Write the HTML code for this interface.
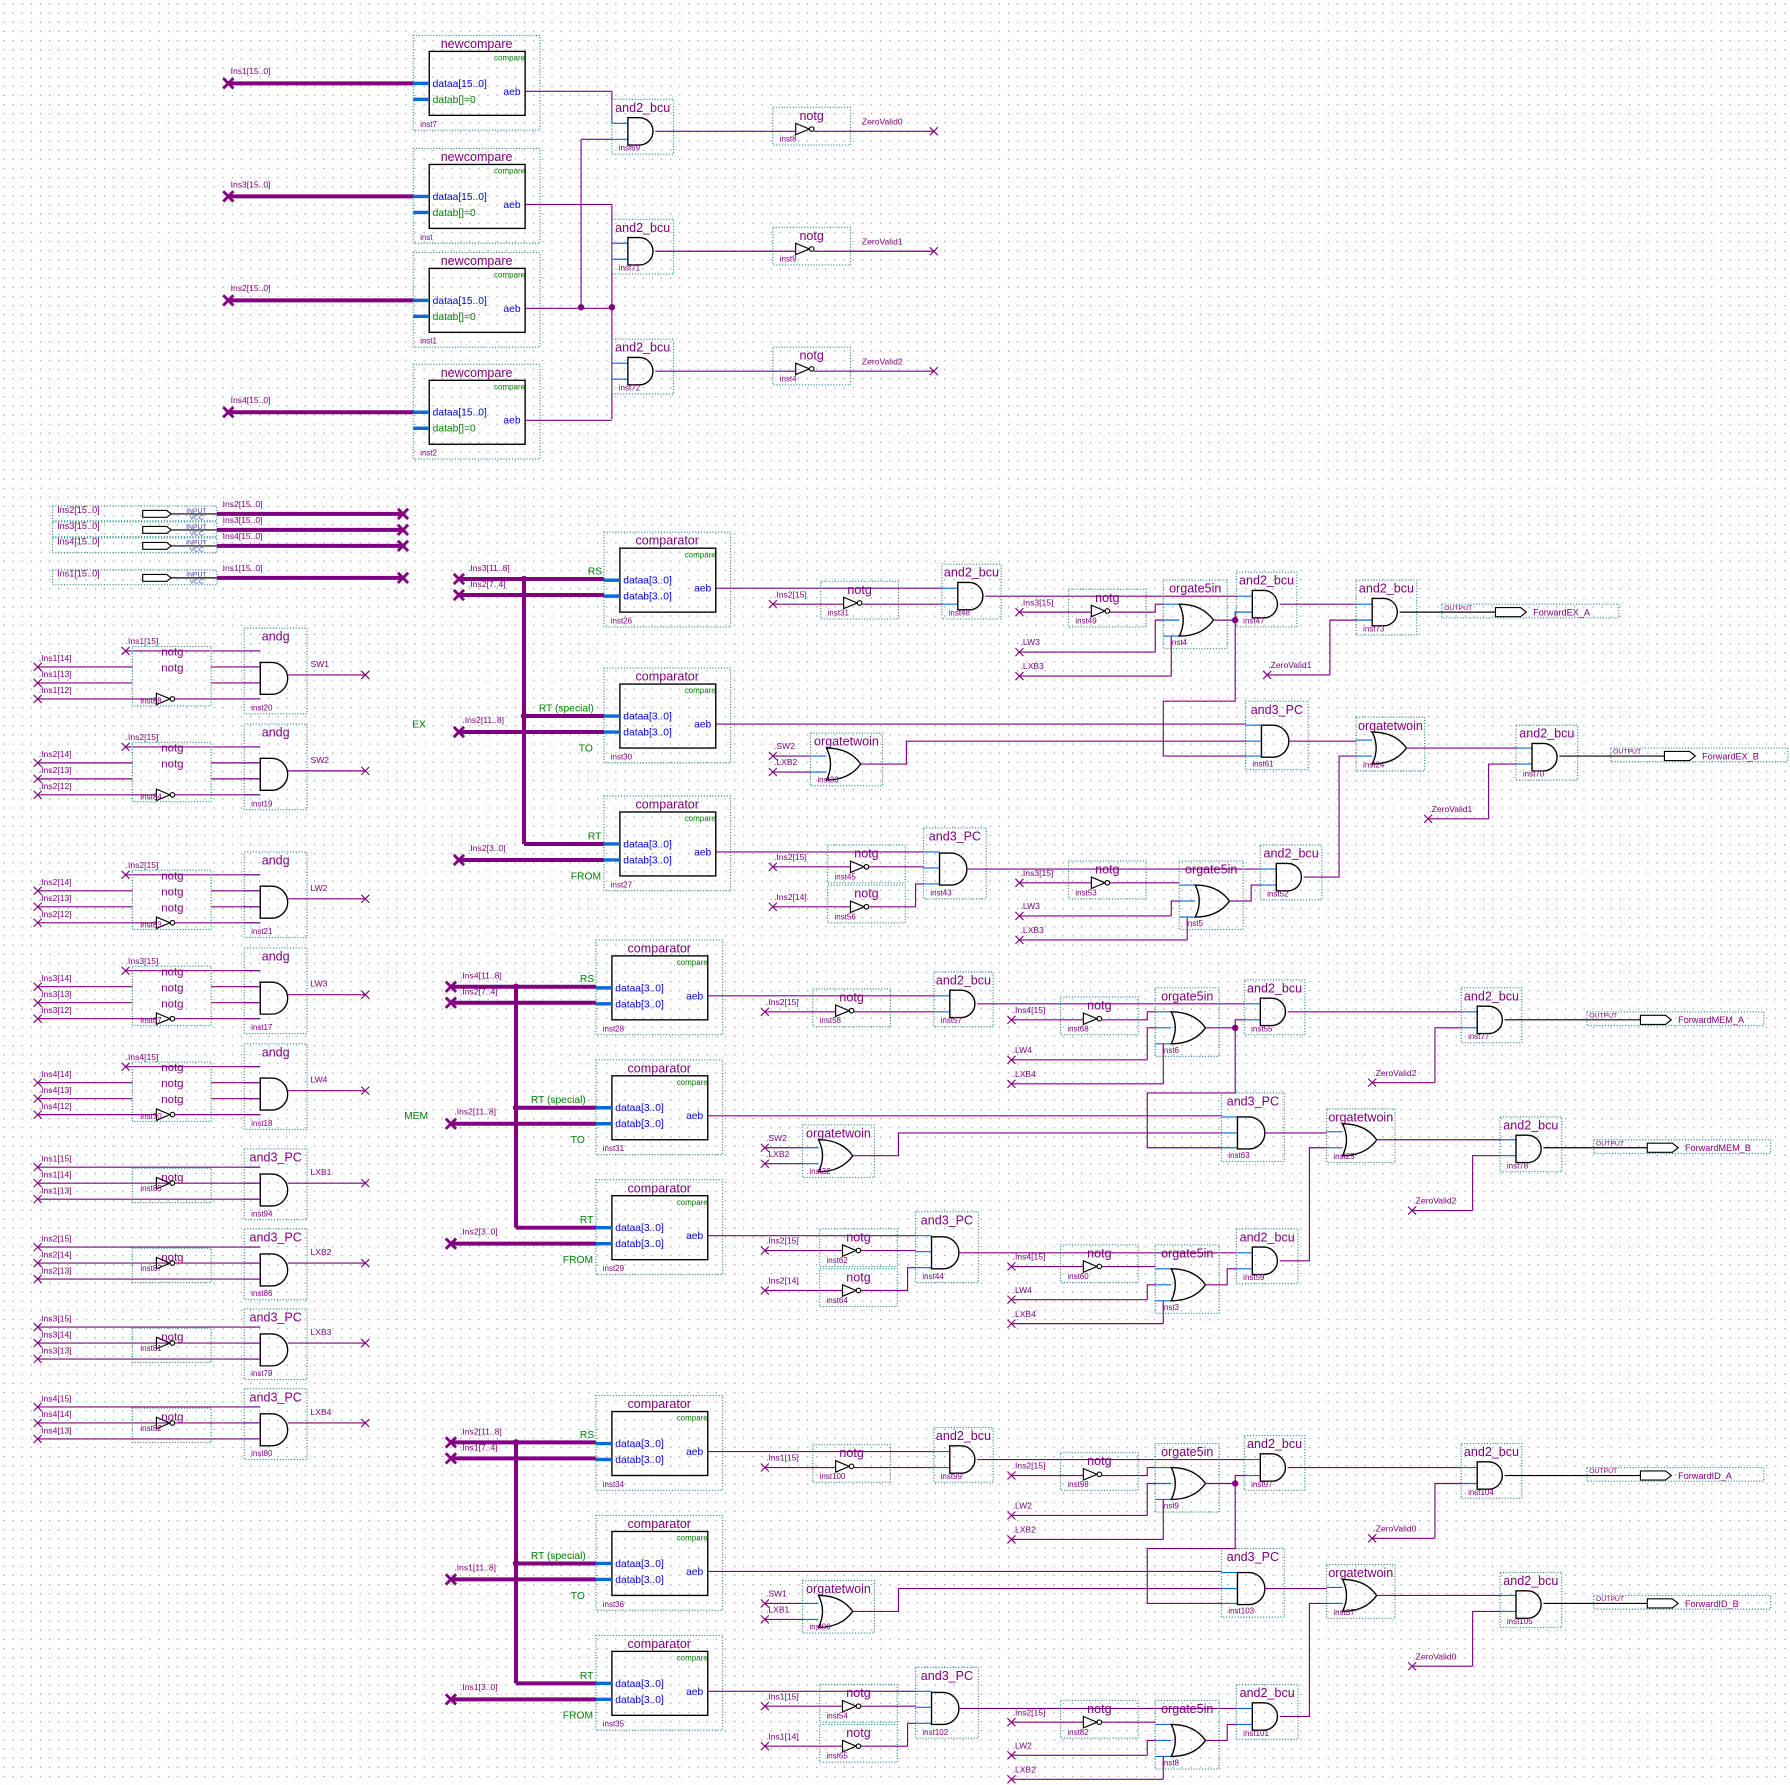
<!DOCTYPE html>
<html><head><meta charset="utf-8">
<style>
html,body{margin:0;padding:0;background:#fff;}
svg{display:block;}
text{font-family:"Liberation Sans",sans-serif;}
</style></head>
<body>
<svg id="s" width="1790" height="1785" viewBox="0 0 1568 1563" preserveAspectRatio="none" xmlns="http://www.w3.org/2000/svg">
<defs><pattern id="g" width="8" height="8" patternUnits="userSpaceOnUse"><rect x="3" y="3" width="1" height="1" fill="#8a8a8a"/></pattern></defs>
<rect width="1568" height="1563" fill="#fff"/>
<rect width="1568" height="1563" fill="url(#g)"/>
<g id="c"></g>
</svg>
<script>
var h='';var P='#800080',BL='#0a6ad8',GR='#008000',BLU='#0000e0';
function L(p,c,w){c=c||P;w=w||1;h+='<polyline points="'+p.map(function(q){return q[0]+','+q[1]}).join(' ')+'" fill="none" stroke="'+c+'" stroke-width="'+w+'"/>';}
function T(x,y,s,sz,col,anc){h+='<text x="'+x+'" y="'+y+'" font-size="'+(sz||8)+'" fill="'+(col||P)+'"'+(anc?' text-anchor="'+anc+'"':'')+'>'+s+'</text>';}
function XM(x,y,b){var d=b?4.5:3.5;var w=b?2.5:1;L([[x-d,y-d],[x+d,y+d]],P,w);L([[x-d,y+d],[x+d,y-d]],P,w);}
function DOT(x,y){h+='<circle cx="'+x+'" cy="'+y+'" r="2.8" fill="'+P+'"/>';}
function BX(x,y,w,hh){h+='<rect x="'+x+'" y="'+y+'" width="'+w+'" height="'+hh+'" fill="none" stroke="#2f8f8f" stroke-width="1" stroke-dasharray="1,1.5"/>';}
function BUS(x1,y,x2){L([[x1,y],[x2,y]],P,3.5);}
function VBUS(x,y1,y2){L([[x,y1],[x,y2]],P,3.5);}
function body(t,x,yc,hh){
 hh=hh||24;var r=hh/2;
 if(t=='and')h+='<path d="M'+x+','+(yc-r)+' h10 a'+r+','+r+' 0 0 1 0,'+hh+' h-10 z" fill="none" stroke="#000" stroke-width="1.2"/>';
 else if(t=='or')h+='<path d="M'+x+','+(yc-r)+' q20,0 30,'+r+' q-10,'+r+' -30,'+r+' q7,-'+r+' 0,-'+hh+' z" fill="none" stroke="#000" stroke-width="1.2"/>';
 else {h+='<path d="M'+x+','+(yc-5)+' L'+(x+12)+','+yc+' L'+x+','+(yc+5)+' z" fill="none" stroke="#000" stroke-width="1"/><circle cx="'+(x+14)+'" cy="'+yc+'" r="2" fill="#fff" stroke="#000"/>';}
}
function G(t,x,y,w,hh,title,inst,ins){
 BX(x,y,w,hh);T(x+w/2,y+11,title,11,P,'middle');
 var yc=Math.round(y+hh*0.58);var bx=x+14;
 if(t=='not'){bx=x+20;}
 if(ins)ins.forEach(function(iy){L([[x,iy],[bx,iy]],BL,1);});
 var bh=(t=='or')?28:(hh>=58?28:24);
 body(t,bx,yc,bh);
 if(inst)T(x+6,y+hh-3,inst,7,P);
 return {bx:bx,yc:yc,ox:bx+(t=='and'?24:(t=='or'?30:16))};
}
function COMP(x,y,title,inst,a,b,bc){
 var w=111,hh=83;BX(x,y,w,hh);T(x+w/2,y+11,title,11,P,'middle');
 h+='<rect x="'+(x+14)+'" y="'+(y+14)+'" width="'+(w-27)+'" height="56" fill="none" stroke="#000" stroke-width="1.2"/>';
 T(x+w-13,y+22,'compare',7,GR,'end');
 L([[x,y+42],[x+14,y+42]],BL,3);L([[x,y+56],[x+14,y+56]],BL,3);
 T(x+17,y+45,a,9,BLU);T(x+17,y+59,b,9,bc||BLU);T(x+w-17,y+52,'aeb',9,BLU,'end');
 T(x+6,y+hh-3,inst,7,P);
}
function inp(x1,y,x2,lab){XM(x1,y);L([[x1,y],[x2,y]]);if(lab)T(x1+1,y-6,lab,7.5,P);}

// ===== Top section =====
var tops=[[31,'Ins1[15..0]','inst7'],[130,'Ins3[15..0]','inst'],[221,'Ins2[15..0]','inst1'],[319,'Ins4[15..0]','inst2']];
tops.forEach(function(t){COMP(362,t[0],'newcompare',t[2],'dataa[15..0]','datab[]=0',GR);
 BUS(200,t[0]+42,362);XM(200,t[0]+42,1);T(202,t[0]+34,t[1],7.5,P);
 L([[460,t[0]+49],[536,t[0]+49]]);});
L([[536,80],[536,108]]);L([[509,122],[509,269]]);L([[536,179],[536,367]]);DOT(509,269);DOT(536,269);
var tg=[[87,'inst69',108,122,'notg','inst8','ZeroValid0',94],[192,'inst71',213,227,'notg','inst9','ZeroValid1',199],[297,'inst72',318,332,'notg','inst4','ZeroValid2',304]];
tg.forEach(function(t,i){var g=G('and',536,t[0],54,48,'and2_bcu',t[1],[t[2],t[3]]);
 if(i==0)L([[509,122],[536,122]]);
 var n=G('not',677,t[7],68,33,'notg',t[5],[]);
 L([[g.ox,g.yc],[n.bx,g.yc]]);L([[n.ox,g.yc],[818,g.yc]]);XM(818,g.yc);T(755,g.yc-6,t[6],7.5,P);});

// ===== Input pins =====
[[450,'Ins2[15..0]'],[464,'Ins3[15..0]'],[478,'Ins4[15..0]'],[506,'Ins1[15..0]']].forEach(function(r){
 var y=r[0];BX(46,y-7,144,13);T(50,y-1,r[1],8,P);
 h+='<path d="M125,'+(y-3)+' h21 l4,3 l-4,3 h-21 z" fill="#fff" stroke="#000"/>';
 L([[150,y],[190,y]],'#000');T(163,y-1,'INPUT',6,'#4040c0');T(166,y+5,'VCC',6,'#4040c0');
 BUS(190,y,355);XM(353,y,1);T(195,y-6,r[1],7.5,P);});

// ===== Left column =====
function ANDG(top,n,lab,inst,ninst,nn){
 var g=G('and',214,top,55,75,'andg',inst,[top+20,top+34,top+48,top+62]);
 var ys=[top+20,top+34,top+48,top+62];
 XM(110,ys[0]);L([[110,ys[0]],[228,ys[0]]]);T(110,ys[0]-6,'.'+n+'[15]',7.5,P);
 for(var i=1;i<4;i++){XM(33,ys[i]);L([[33,ys[i]],[116,ys[i]]]);L([[185,ys[i]],[228,ys[i]]]);T(34,ys[i]-5,'.'+n+'['+(15-i)+']',7.5,P);}
 BX(116,top+16,69,52);
 for(var k=0;k<nn;k++)T(151,top+24+k*14,'notg',10,P,'middle');
 body('not',137,ys[3]);L([[116,ys[3]],[137,ys[3]]]);L([[153,ys[3]],[185,ys[3]]]);T(123,ys[3]+4,ninst,7,P);
 L([[g.ox,top+41],[320,top+41]]);XM(320,top+41);T(272,top+34,lab,7.5,P);
}
ANDG(550,'Ins1','SW1','inst20','inst88',2);
ANDG(634,'Ins2','SW2','inst19','inst84',2);
ANDG(746,'Ins2','LW2','inst21','inst83',3);
ANDG(830,'Ins3','LW3','inst17','inst67',3);
ANDG(914,'Ins4','LW4','inst18','inst70',3);
function AND3L(top,n,lab,inst,ninst){
 var ys=[top+16,top+30,top+44];
 var g=G('and',214,top,55,62,'and3_PC',inst,ys);
 for(var i=0;i<3;i++){XM(33,ys[i]);L([[33,ys[i]],[228,ys[i]]]);T(34,ys[i]-5,'.'+n+'['+(15-i)+']',7.5,P);}
 BX(116,top+17,69,30);T(151,top+28,'notg',10,P,'middle');body('not',137,ys[1]);T(123,ys[1]+7,ninst,7,P);
 L([[g.ox,ys[1]],[320,ys[1]]]);XM(320,ys[1]);T(272,ys[1]-7,lab,7.5,P);
}
AND3L(1006,'Ins1','LXB1','inst94','inst85');
AND3L(1076,'Ins2','LXB2','inst86','inst87');
AND3L(1146,'Ins3','LXB3','inst79','inst81');
AND3L(1216,'Ins4','LXB4','inst80','inst82');

// ===== Forward groups (MEM base coords) =====
function GRP(o){
 var dx=o.dx,dy=o.dy,dm=o.dm||0,dt=o.dt||0;
 function x(v){return v+dx;}function y(v){return v+dy;}function ym(v){return v+dy+dm;}function yt(v){return v+dy+dt;}
 COMP(x(522),y(823),'comparator',o.ci[0],'dataa[3..0]','datab[3..0]');
 COMP(x(522),ym(928),'comparator',o.ci[1],'dataa[3..0]','datab[3..0]');
 COMP(x(522),yt(1033),'comparator',o.ci[2],'dataa[3..0]','datab[3..0]');
 VBUS(x(452),y(864),yt(1075));
 [[y(864),1],[y(878),1],[ym(970),0],[ym(984),1],[yt(1075),0],[yt(1089),1]].forEach(function(b){var x1=b[1]?x(395):x(452);BUS(x1,b[0],x(522));if(b[1])XM(x(395),b[0],1);});
 DOT(x(452),y(864));DOT(x(452),ym(970));
 T(x(403),y(857),o.bl[0],7.5,P);T(x(403),y(871),o.bl[1],7.5,P);T(x(398),ym(976),o.bl[2],7.5,P);T(x(403),yt(1081),o.bl[3],7.5,P);
 if(o.side)T(x(354),ym(980),o.side,9,GR);
 T(x(508),y(860),'RS',9,GR);T(x(465),ym(966),'RT (special)',9,GR);T(x(500),ym(1001),'TO',9,GR);T(x(508),yt(1071),'RT',9,GR);T(x(493),yt(1106),'FROM',9,GR);
 // RS row
 var a1=G('and',x(818),y(851),52,48,'and2_bcu',o.ri[0],[y(872),y(886)]);
 L([[x(620),y(872)],[x(818),y(872)]]);
 var n1=G('not',x(712),y(866),68,33,'notg',o.ri[1],[]);
 inp(x(670),y(886),n1.bx,o.rs[0]);L([[n1.ox,y(886)],[x(818),y(886)]]);
 var sa=o.sa||0;
 var a2=G('and',x(1090)+sa,y(858),53,48,'and2_bcu',o.ri[3],[y(879),y(893)]);
 L([[a1.ox,y(879)],[x(1090)+sa,y(879)]]);
 var n2=G('not',x(929),y(873),68,33,'notg',o.ri[4],[]);
 inp(x(886),y(893),n2.bx,o.rs[1]);
 var og=G('or',x(1012),y(865),56,60,'orgate5in',o.ri[2],[y(886),y(900),y(914)]);
 L([[n2.ox,y(893)],[x(1005),y(893)],[x(1005),y(886)],[x(1012),y(886)]]);
 inp(x(886),y(928),x(1005),o.rs[2]);L([[x(1005),y(928)],[x(1005),y(900)],[x(1012),y(900)]]);
 inp(x(886),y(949),x(1019),o.rs[3]);L([[x(1019),y(949)],[x(1019),y(914)]]);
 var dX=x(1082)+sa/2;
 L([[og.ox,y(900)],[dX,y(900)],[dX,y(893)],[x(1090)+sa,y(893)]]);DOT(dX,y(900));
 var fa=o.fa;
 var fA=G('and',fa,y(865),53,48,'and2_bcu',o.ri[5],[y(886),y(900)]);
 L([[a2.ox,y(886)],[fa,y(886)]]);
 inp(fa-78,y(948),fa-23,o.zv);L([[fa-23,y(948)],[fa-23,y(900)],[fa,y(900)]]);
 L([[fA.ox,y(893)],[o.pa,y(893)]],'#000');
 BX(o.pa-47,y(886),155,12);T(o.pa-45,y(891),'OUTPUT',6,P);
 h+='<path d="M'+o.pa+','+(y(893)-4)+' h22 l5,4 l-5,4 h-22 z" fill="#fff" stroke="#000"/>';T(o.pa+33,y(896),o.oa,8,P);
 // middle
 var s3=o.s3||0,s2=o.s2||0;
 var a3=G('and',x(1070)+s3,ym(957),55,60,'and3_PC',o.mi[0],[ym(978),ym(992),ym(1005)]);
 L([[dX,y(900)],[dX,ym(957)],[x(1005)+s3/2,ym(957)],[x(1005)+s3/2,ym(1005)],[x(1070)+s3,ym(1005)]]);
 L([[x(620),ym(977)],[x(1070)+s3,ym(977)]]);
 var so=G('or',x(703),ym(985),63,46,'orgatetwoin',o.mi[1],[ym(1005),ym(1019)]);
 inp(x(670),ym(1005),x(703),o.ms[0]);inp(x(670),ym(1019),x(703),o.ms[1]);
 L([[so.ox,ym(1012)],[x(787),ym(1012)],[x(787),ym(992)],[x(1070)+s3,ym(992)]]);
 var bo=G('or',x(1162)+s2,ym(971),60,47,'orgatetwoin',o.mi[2],[ym(991),ym(1005)]);
 L([[a3.ox,ym(992)],[x(1162)+s2,ym(992)]]);
 var fb=o.fb;
 var fB=G('and',fb,ym(978),54,48,'and2_bcu',o.mi[3],[ym(998),ym(1012)]);
 L([[bo.ox,ym(998)],[fb,ym(998)]]);
 inp(fb-77,ym(1060),fb-24,o.zv);L([[fb-24,ym(1060)],[fb-24,ym(1012)],[fb,ym(1012)]]);
 L([[fB.ox,ym(1005)],[o.pb,ym(1005)]],'#000');
 BX(o.pb-47,ym(998),155,12);T(o.pb-45,ym(1003),'OUTPUT',6,P);
 h+='<path d="M'+o.pb+','+(ym(1005)-4)+' h22 l5,4 l-5,4 h-22 z" fill="#fff" stroke="#000"/>';T(o.pb+33,ym(1008),o.ob,8,P);
 // RT row
 var a4=G('and',x(802),yt(1061),55,62,'and3_PC',o.ti[0],[yt(1082),yt(1096),yt(1110)]);
 L([[x(620),yt(1082)],[x(802),yt(1082)]]);
 var n3=G('not',x(718),yt(1076),68,33,'notg',o.ti[1],[]);inp(x(670),yt(1095),n3.bx,o.ts[0]);L([[n3.ox,yt(1095)],[x(802),yt(1095)]]);
 var n4=G('not',x(718),yt(1111),68,33,'notg',o.ti[2],[]);inp(x(670),yt(1130),n4.bx,o.ts[1]);L([[n4.ox,yt(1130)],[x(795),yt(1130)],[x(795),yt(1110)],[x(802),yt(1110)]]);
 var sr=o.sr||0;
 var a5=G('and',x(1083)+sr,yt(1076),54,48,'and2_bcu',o.ti[4],[yt(1097),yt(1111)]);
 L([[a4.ox,yt(1097)],[x(1083)+sr,yt(1097)]]);
 var n5=G('not',x(929),yt(1090),68,33,'notg',o.ti[5],[]);inp(x(886),yt(1109),n5.bx,o.ts[2]);
 var o5=G('or',x(1012)+sr,yt(1090),56,60,'orgate5in',o.ti[3],[yt(1111),yt(1125),yt(1139)]);
 L([[n5.ox,yt(1109)],[x(1012)+sr,yt(1109)]]);
 inp(x(886),yt(1138),x(1005)+sr,o.rs[2]);L([[x(1005)+sr,yt(1138)],[x(1005)+sr,yt(1125)],[x(1012)+sr,yt(1125)]]);
 inp(x(886),yt(1159),x(1019)+sr,o.rs[3]);L([[x(1019)+sr,yt(1159)],[x(1019)+sr,yt(1139)]]);
 L([[o5.ox,yt(1125)],[x(1075)+sr,yt(1125)],[x(1075)+sr,yt(1111)],[x(1083)+sr,yt(1111)]]);
 L([[a5.ox,yt(1104)],[x(1147)+s2,yt(1104)],[x(1147)+s2,ym(1005)],[x(1162)+s2,ym(1005)]]);
}
GRP({dx:7,dy:-357,dm:14,dt:21,sa:-14,s3:14,s2:19,sr:14,fa:1188,fb:1328,pa:1310,pb:1458,oa:'ForwardEX_A',ob:'ForwardEX_B',zv:'.ZeroValid1',
 ci:['inst26','inst30','inst27'],bl:['.Ins3[11..8]','.Ins2[7..4]','.Ins2[11..8]','.Ins2[3..0]'],side:'EX',
 ri:['inst48','inst31','inst4','inst47','inst49','inst73'],rs:['.Ins2[15]','.Ins3[15]','.LW3','.LXB3'],
 mi:['inst61','inst33','inst24','inst70'],ms:['.SW2','.LXB2'],ti:['inst43','inst45','inst56','inst5','inst52','inst53'],ts:['.Ins2[15]','.Ins2[14]','.Ins3[15]']});
GRP({dx:0,dy:0,fa:1280,fb:1314,pa:1437,pb:1443,oa:'ForwardMEM_A',ob:'ForwardMEM_B',zv:'.ZeroValid2',
 ci:['inst28','inst31','inst29'],bl:['.Ins4[11..8]','.Ins2[7..4]','.Ins2[11..8]','.Ins2[3..0]'],side:'MEM',
 ri:['inst57','inst58','inst6','inst55','inst68','inst77'],rs:['.Ins2[15]','.Ins4[15]','.LW4','.LXB4'],
 mi:['inst63','inst32','inst25','inst78'],ms:['.SW2','.LXB2'],ti:['inst44','inst62','inst64','inst3','inst59','inst60'],ts:['.Ins2[15]','.Ins2[14]','.Ins4[15]']});
GRP({dx:0,dy:399,fa:1280,fb:1314,pa:1437,pb:1443,oa:'ForwardID_A',ob:'ForwardID_B',zv:'.ZeroValid0',
 ci:['inst34','inst36','inst35'],bl:['.Ins2[11..8]','.Ins1[7..4]','.Ins1[11..8]','.Ins1[3..0]'],side:'',
 ri:['inst99','inst100','inst9','inst97','inst98','inst104'],rs:['.Ins1[15]','.Ins2[15]','.LW2','.LXB2'],
 mi:['inst103','inst96','inst37','inst105'],ms:['.SW1','.LXB1'],ti:['inst102','inst54','inst65','inst8','inst101','inst82'],ts:['.Ins1[15]','.Ins1[14]','.Ins2[15]']});
document.getElementById('c').innerHTML=h;
</script>
</body></html>
